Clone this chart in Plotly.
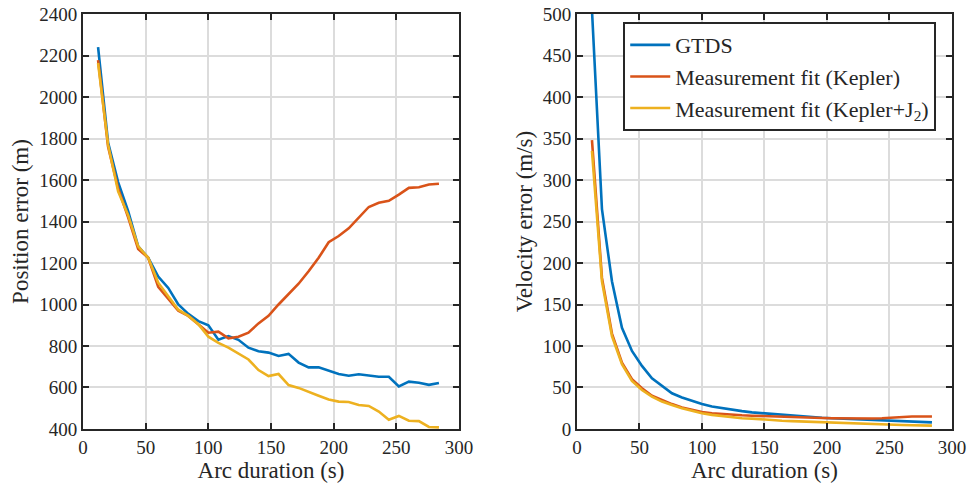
import plotly.graph_objects as go

arc = [12, 20, 28, 36, 44, 52, 60, 68, 76, 84, 92, 100, 108, 116, 124, 132, 140, 148,
       156, 164, 172, 180, 188, 196, 204, 212, 220, 228, 236, 244, 252, 260, 268, 276, 284]

pos_gtds = [2240, 1780, 1590, 1450, 1280, 1225, 1135, 1080, 1000, 955, 920, 900, 830, 848,
            830, 792, 775, 768, 752, 762, 720, 697, 697, 680, 665, 657, 664, 658, 652, 652,
            605, 628, 623, 613, 622]
pos_kep = [2178, 1760, 1560, 1420, 1268, 1225, 1085, 1030, 970, 945, 905, 864, 869, 837,
           845, 864, 909, 945, 1000, 1050, 1100, 1160, 1225, 1300, 1330, 1367, 1420, 1470,
           1490, 1500, 1530, 1562, 1565, 1578, 1582]
pos_kj2 = [2164, 1770, 1545, 1430, 1280, 1225, 1105, 1040, 975, 945, 905, 845, 815, 792,
           765, 735, 684, 655, 665, 612, 598, 578, 560, 542, 532, 530, 516, 511, 484, 445,
           463, 440, 438, 410, 408]

vel_gtds = [505, 265, 178, 122, 94, 76, 61, 52, 43, 38, 34, 30, 27, 25, 23, 21.5, 20, 19,
            18, 17, 16, 15, 14, 13.5, 13, 12.5, 12, 11.5, 11, 10.5, 10, 9.5, 9, 8.5, 8]
vel_kep = [348, 182, 115, 80, 60, 49, 40, 35, 30, 26, 23, 20.5, 19, 18, 17, 16.5, 16, 15.5,
           15, 14.5, 14, 13.8, 13.5, 13.2, 13, 12.8, 12.6, 12.5, 12.6, 13, 13.8, 14.5, 15, 15, 15]
vel_kj2 = [335, 178, 112, 78, 58, 47, 39, 33, 29, 25, 22, 19, 17, 15.5, 14, 13, 12.5, 11.5,
           11, 10, 9.5, 9, 8.5, 8, 7.5, 7, 6.8, 6.5, 6, 5.5, 5, 4.8, 4.5, 4, 4]

names = ["GTDS", "Measurement fit (Kepler)", "Measurement fit (Kepler+J<sub>2</sub>)"]
colors = ["#0072BD", "#D95319", "#EDB120"]

FONT = "Liberation Serif"

fig = go.Figure()
for ys, nm, c in zip([pos_gtds, pos_kep, pos_kj2], names, colors):
    fig.add_trace(go.Scatter(x=arc, y=ys, mode="lines", name=nm, showlegend=False,
                             line=dict(color=c, width=2.6), xaxis="x", yaxis="y"))
for ys, nm, c in zip([vel_gtds, vel_kep, vel_kj2], names, colors):
    fig.add_trace(go.Scatter(x=arc, y=ys, mode="lines", name=nm, showlegend=True,
                             line=dict(color=c, width=2.6), xaxis="x2", yaxis="y2"))

common = dict(showline=True, linecolor="#262626", linewidth=2, mirror="allticks",
              ticks="inside", ticklen=6, tickwidth=2, tickcolor="#262626",
              showgrid=True, gridcolor="#DCDCDC", gridwidth=1.5, zeroline=False,
              automargin=False,
              tickfont=dict(family=FONT, size=19, color="#262626"))

TF = dict(family=FONT, size=23, color="#262626")
ydom = [0.1245, 0.9714]
fig.update_layout(
    width=970, height=490,
    margin=dict(l=0, r=0, t=0, b=0),
    paper_bgcolor="white", plot_bgcolor="white",
    font=dict(family=FONT, color="#262626"),
    xaxis=dict(domain=[0.0856, 0.4732], range=[0, 300], dtick=50, anchor="y",
               title=dict(text="Arc duration (s)", font=TF, standoff=4), **common),
    yaxis=dict(domain=ydom, range=[400, 2400], dtick=200, anchor="x",
               title=dict(text="Position error (m)", font=TF, standoff=4), **common),
    xaxis2=dict(domain=[0.5948, 0.9814], range=[0, 300], dtick=50, anchor="y2",
                title=dict(text="Arc duration (s)", font=TF, standoff=4), **common),
    yaxis2=dict(domain=ydom, range=[0, 500], dtick=50, anchor="x2",
                title=dict(text="Velocity error (m/s)", font=TF, standoff=4), **common),
    legend=dict(x=0.6425, y=0.955, xanchor="left", yanchor="top",
                bgcolor="white", bordercolor="#262626", borderwidth=2,
                font=dict(family=FONT, size=22, color="#262626"),
                tracegroupgap=0, itemwidth=40),
)

fig.write_html("out.html")
